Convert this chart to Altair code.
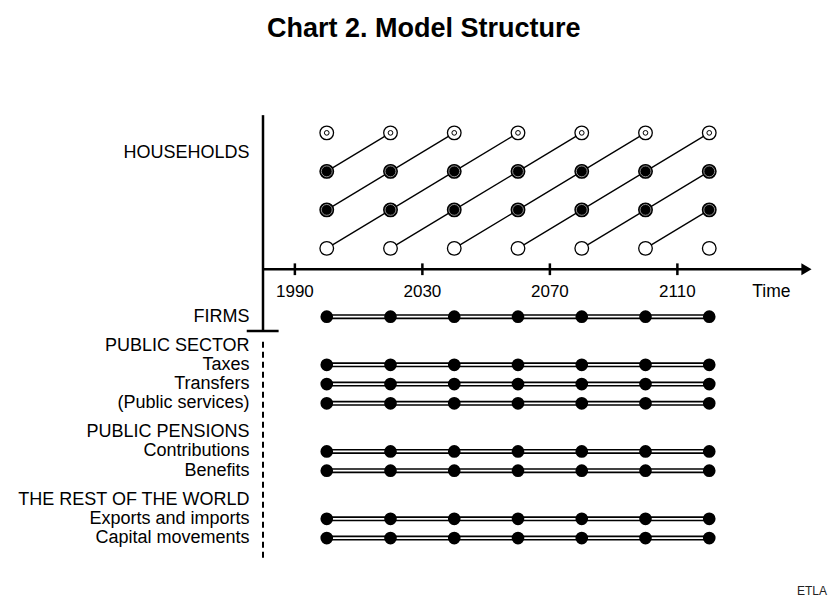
import altair as alt
import pandas as pd

# ---------------- data ----------------
period_years = [2000, 2020, 2040, 2060, 2080, 2100, 2120]
household_ages = [0, 1, 2, 3]
tick_years = [1990, 2030, 2070, 2110]
sector_labels = ["FIRMS", "PUBLIC SECTOR", "Taxes", "Transfers", "(Public services)",
                 "PUBLIC PENSIONS", "Contributions", "Benefits",
                 "THE REST OF THE WORLD", "Exports and imports", "Capital movements"]
sector_has_dots = [True, False, True, True, True, False, True, True, False, True, True]
title_text = "Chart 2. Model Structure"
source_text = "ETLA"

# ---------------- layout ----------------
W, H = 821, 589
PX_PER_YEAR = 3.1875
ROW_PX = 19.25
FIRMS_SVG_Y = 308.7
sector_rows = [0, 1.5, 2.5, 3.5, 4.5, 6, 7, 8, 9.5, 10.5, 11.5]
HH_BASE, HH_STEP = -3.55, 2.0
AXIS_V = -2.46
ORIGIN_YEAR = 1980
LABEL_YEAR = 1975.8

xs = alt.Scale(domain=[1900, 1900 + W / PX_PER_YEAR], nice=False, zero=False)
ys = alt.Scale(domain=[-FIRMS_SVG_Y / ROW_PX, (H - FIRMS_SVG_Y) / ROW_PX],
               reverse=True, nice=False, zero=False)


def X(f="x"):
    return alt.X(f"{f}:Q", scale=xs, axis=None)


def Y(f="y"):
    return alt.Y(f"{f}:Q", scale=ys, axis=None)


def hh_v(age):
    return HH_BASE - HH_STEP * age


# household markers
hh = pd.DataFrame([{"x": yr, "y": hh_v(a), "age": a}
                   for yr in period_years for a in household_ages])

# cohort lines
rows = []
n = len(period_years)
for b in range(-3, n):
    pts = [(b + k, k) for k in household_ages if 0 <= b + k < n]
    if len(pts) >= 2:
        for c, a in pts:
            rows.append({"x": period_years[c], "y": hh_v(a), "cohort": b})
cohorts = pd.DataFrame(rows)

lines = alt.Chart(cohorts).mark_line(color="black", strokeWidth=1.3).encode(
    x=X(), y=Y(), detail="cohort:N", order="x:Q")

open_c = alt.Chart(hh[hh.age.isin([0, 3])]).mark_point(
    shape="circle", filled=True, fill="white", stroke="black", strokeWidth=1.3,
    size=185, opacity=1).encode(x=X(), y=Y())
full_c = alt.Chart(hh[hh.age.isin([1, 2])]).mark_point(
    shape="circle", filled=True, fill="black", stroke="black", strokeWidth=1.3,
    size=185, opacity=1).encode(x=X(), y=Y())
ring_c = alt.Chart(hh[hh.age.isin([1, 2])]).mark_point(
    shape="circle", filled=False, stroke="#a0a0a0", strokeWidth=0.9,
    size=118, opacity=1).encode(x=X(), y=Y())
inner_c = alt.Chart(hh[hh.age == 3]).mark_point(
    shape="circle", filled=False, stroke="black", strokeWidth=1,
    size=22, opacity=1).encode(x=X(), y=Y())

# axes
axis_df = pd.DataFrame([
    {"x": ORIGIN_YEAR, "x2": 2150, "y": AXIS_V, "y2": AXIS_V},
    {"x": ORIGIN_YEAR, "x2": ORIGIN_YEAR, "y": -10.47, "y2": 0.74},
    {"x": ORIGIN_YEAR - 5.1, "x2": ORIGIN_YEAR + 4.9, "y": 0.74, "y2": 0.74},
])
axis_lines = alt.Chart(axis_df).mark_rule(color="black", strokeWidth=2.5).encode(
    x=X(), x2="x2:Q", y=Y(), y2="y2:Q")
dash_df = pd.DataFrame([{"x": ORIGIN_YEAR, "y": 1.3, "y2": 12.54}])
dashed = alt.Chart(dash_df).mark_rule(color="black", strokeWidth=2,
                                      strokeDash=[6, 4]).encode(
    x=X(), y=Y(), y2="y2:Q")
ticks_df = pd.DataFrame({"x": tick_years})
ticks_df["y"] = AXIS_V - 0.31
ticks_df["y2"] = AXIS_V + 0.3
ticks = alt.Chart(ticks_df).mark_rule(color="black", strokeWidth=2.5).encode(
    x=X(), y=Y(), y2="y2:Q")
arrow = alt.Chart(pd.DataFrame([{"x": 2150.5, "y": AXIS_V}])).mark_point(
    shape="M-0.85,-1L0.85,0L-0.85,1Z", filled=True, color="black", size=144,
    opacity=1).encode(x=X(), y=Y())

tick_lab_df = pd.DataFrame({"x": tick_years, "t": [str(t) for t in tick_years]})
tick_lab_df["y"] = -1.3
tick_labels = alt.Chart(tick_lab_df).mark_text(
    font="Liberation Sans", fontSize=17, align="center", baseline="middle",
    color="black").encode(x=X(), y=Y(), text="t:N")
time_lab = alt.Chart(pd.DataFrame([{"x": 2139.5, "y": -1.3, "t": "Time"}])).mark_text(
    font="Liberation Sans", fontSize=17.5, align="center", baseline="middle",
    color="black").encode(x=X(), y=Y(), text="t:N")

# row labels
lab_rows = [{"x": LABEL_YEAR, "y": -8.5, "t": "HOUSEHOLDS"}]
for lab, r in zip(sector_labels, sector_rows):
    lab_rows.append({"x": LABEL_YEAR, "y": r, "t": lab})
row_labels = alt.Chart(pd.DataFrame(lab_rows)).mark_text(
    font="Liberation Sans", fontSize=18, align="right", baseline="middle",
    color="black").encode(x=X(), y=Y(), text="t:N")

# sector double lines and dots
sec_lines = pd.DataFrame([{"x": period_years[0], "x2": period_years[-1], "y": r}
                          for r, d in zip(sector_rows, sector_has_dots) if d])
sec_outer = alt.Chart(sec_lines).mark_rule(color="black", strokeWidth=5).encode(
    x=X(), x2="x2:Q", y=Y())
sec_inner = alt.Chart(sec_lines).mark_rule(color="white", strokeWidth=1.7).encode(
    x=X(), x2="x2:Q", y=Y())
sec_dots = pd.DataFrame([{"x": yr, "y": r} for r, d in zip(sector_rows, sector_has_dots)
                         if d for yr in period_years])
dots = alt.Chart(sec_dots).mark_point(shape="circle", filled=True, color="black",
                                      size=160, opacity=1).encode(x=X(), y=Y())

title = alt.Chart(pd.DataFrame([{"t": title_text}])).mark_text(
    font="Liberation Sans", fontSize=27, fontWeight="bold", align="center",
    baseline="alphabetic", color="black").encode(
    x=alt.value(415.7), y=alt.value(28.7), text="t:N")
source = alt.Chart(pd.DataFrame([{"t": source_text}])).mark_text(
    font="Liberation Sans", fontSize=12, align="right", baseline="alphabetic",
    color="#222222").encode(x=alt.value(819), y=alt.value(587), text="t:N")

chart = alt.layer(
    lines, open_c, full_c, ring_c, inner_c,
    axis_lines, dashed, ticks, arrow, tick_labels, time_lab, row_labels,
    sec_outer, sec_inner, dots, title, source
).properties(width=W, height=H, autosize=alt.AutoSizeParams(type="none"),
             padding=0
).configure_view(stroke=None)

chart.save("out.html", embed_options={"renderer": "svg", "actions": False})
